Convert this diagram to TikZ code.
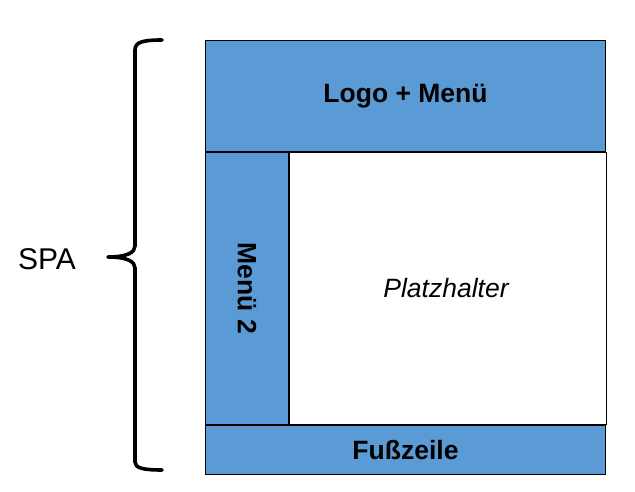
\documentclass[tikz,border=0pt]{standalone}
\usepackage{fontspec}
\setmainfont{Liberation Sans}
\usepackage{xcolor}
\usepackage{tikz}
\usetikzlibrary{positioning}
\definecolor{bg}{HTML}{FFFFFF}
\definecolor{blue}{HTML}{5B9BD5}
\definecolor{text}{HTML}{000000}
\tikzset{
  box/.style={draw=text, fill=blue, line width=1pt, inner sep=0pt, anchor=north west},
  content/.style={draw=text, fill=bg, line width=1pt, inner sep=0pt, anchor=north west},
  brace/.style={draw=text, line width=3.6pt, line cap=round, line join=round},
  labb/.style={text=text, font=\fontsize{26.5}{31}\selectfont\bfseries},
  labi/.style={text=text, font=\fontsize{26.5}{31}\selectfont\itshape},
  labl/.style={text=text, font=\fontsize{30}{36}\selectfont},
}

\begin{document}
\begin{tikzpicture}[x=1pt, y=-1pt]
  \useasboundingbox[fill=bg] (0,0) rectangle (635,492);
  % page areas
  \node[box, minimum width=400pt, minimum height=111pt, labb] (head) at (205,40) {Logo + Menü};
  \node[box, minimum width=83pt, minimum height=272pt] (menu) at (head.south west) {};
  \node[labb, rotate=-90] at (menu.center) {Menü 2};
  \node[content, minimum width=317pt, minimum height=272pt] (main) at (menu.north east) {};
  \node[labi] at ([xshift=-2pt]main.center) {Platzhalter};
  \node[box, minimum width=400pt, minimum height=49pt, labb] (foot) at (menu.south west) {Fußzeile};
  % brace
  \coordinate (top) at (162,40);
  \coordinate (tip) at (108,257);
  \coordinate (bot) at (162,470);
  \draw[brace] (top) .. controls (143,40) and (135,42) .. (135,50) -- (135,246)
    .. controls (135,252) and (128,257) .. (tip)
    .. controls (128,257) and (135,262) .. (135,268) -- (135,462)
    .. controls (135,468) and (143,470) .. (bot);
  \node[labl, anchor=center] (spa) at (47,259) {SPA};
\end{tikzpicture}
\end{document}
